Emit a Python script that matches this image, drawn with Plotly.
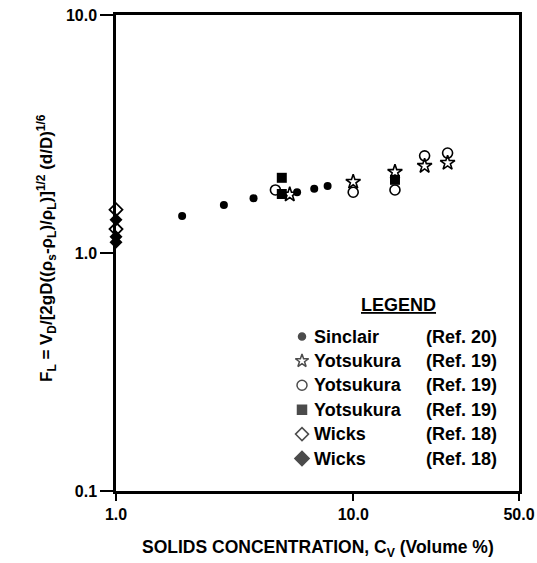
import plotly.graph_objects as go

# ---- data ----
sinclair_x = [1.9, 2.85, 3.8, 5.0, 5.8, 6.85, 7.8]
sinclair_y = [1.43, 1.59, 1.70, 1.76, 1.80, 1.86, 1.91]

yots_star_x = [5.4, 10.0, 15.0, 20.0, 25.0]
yots_star_y = [1.76, 1.99, 2.19, 2.32, 2.39]

yots_circ_x = [4.7, 10.0, 15.0, 20.0, 25.0]
yots_circ_y = [1.84, 1.80, 1.84, 2.56, 2.63]

yots_sq_x = [5.0, 5.0, 15.0]
yots_sq_y = [2.07, 1.77, 2.03]

wicks_open_x = [1.0, 1.0]
wicks_open_y = [1.52, 1.26]

wicks_fill_x = [1.0, 1.0, 1.0]
wicks_fill_y = [1.38, 1.17, 1.11]

legend_names = ["Sinclair", "Yotsukura", "Yotsukura", "Yotsukura", "Wicks", "Wicks"]
legend_refs = ["(Ref. 20)", "(Ref. 19)", "(Ref. 19)", "(Ref. 19)", "(Ref. 18)", "(Ref. 18)"]
legend_symbols = ["circle", "star-open", "circle-open", "square", "diamond-open", "diamond"]
legend_sizes = [7, 10, 10, 9, 10, 11]

x_ticks = [1, 10, 50]
x_ticktext = ["1.0", "10.0", "50.0"]
y_ticks = [0.1, 1, 10]
y_ticktext = ["0.1", "1.0", "10.0"]

FONT = "Liberation Sans"
W, H = 537, 563
L, R, T, B = 116, 18, 15, 72
PW, PH = W - L - R, H - T - B

def fx(px):
    return (px - L) / PW

def fy(py):
    return (H - B - py) / PH

fig = go.Figure()

common = dict(mode="markers", cliponaxis=False, showlegend=False)
fig.add_trace(go.Scatter(x=sinclair_x, y=sinclair_y,
                         marker=dict(symbol="circle", size=8, color="black"), **common))
fig.add_trace(go.Scatter(x=yots_sq_x, y=yots_sq_y,
                         marker=dict(symbol="square", size=10, color="black"), **common))
fig.add_trace(go.Scatter(x=yots_star_x, y=yots_star_y,
                         marker=dict(symbol="star-open", size=11, color="black",
                                     line=dict(width=1.6, color="black")), **common))
fig.add_trace(go.Scatter(x=yots_circ_x, y=yots_circ_y,
                         marker=dict(symbol="circle-open", size=10, color="black",
                                     line=dict(width=1.6, color="black")), **common))
fig.add_trace(go.Scatter(x=wicks_fill_x, y=wicks_fill_y,
                         marker=dict(symbol="diamond", size=10, color="black"), **common))
fig.add_trace(go.Scatter(x=wicks_open_x, y=wicks_open_y,
                         marker=dict(symbol="diamond-open", size=10, color="black",
                                     line=dict(width=1.8, color="black")), **common))

# legend block drawn on an overlay axis in plot-fraction coordinates
row_y = [336.5 + 24.4 * i for i in range(len(legend_names))]
fig.add_trace(go.Scatter(
    x=[fx(302)] * len(row_y), y=[fy(py) for py in row_y],
    xaxis="x2", yaxis="y2", mode="markers", showlegend=False, cliponaxis=False,
    marker=dict(symbol=legend_symbols, size=legend_sizes, color="black",
                line=dict(width=1.5, color="black"))))

annotations = []
for i, py in enumerate(row_y):
    annotations.append(dict(xref="paper", yref="paper", x=fx(312), y=fy(py),
                            xanchor="left", yanchor="middle", showarrow=False,
                            text=f"<b>{legend_names[i]}</b>",
                            font=dict(family=FONT, size=18, color="black")))
    annotations.append(dict(xref="paper", yref="paper", x=fx(499), y=fy(py),
                            xanchor="right", yanchor="middle", showarrow=False,
                            text=f"<b>{legend_refs[i]}</b>",
                            font=dict(family=FONT, size=18, color="black")))
annotations.append(dict(xref="paper", yref="paper", x=fx(398), y=fy(305),
                        xanchor="center", yanchor="middle", showarrow=False,
                        text="<b><u>LEGEND</u></b>",
                        font=dict(family=FONT, size=18, color="black")))
# y axis title (formula)
annotations.append(dict(xref="paper", yref="paper", x=fx(46), y=fy(248),
                        xanchor="center", yanchor="middle", showarrow=False,
                        textangle=-90,
                        text="<b>F<sub>L</sub> = V<sub>D</sub>/[2gD((ρ<sub>s</sub>-ρ<sub>L</sub>)/ρ<sub>L</sub>)]"
                             "<sup>1/2</sup> (d/D)<sup>1/6</sup></b>",
                        font=dict(family=FONT, size=17, color="black")))
# x axis title
annotations.append(dict(xref="paper", yref="paper", x=fx(318), y=fy(548),
                        xanchor="center", yanchor="middle", showarrow=False,
                        text="<b>SOLIDS CONCENTRATION, C<sub>V</sub> (Volume %)</b>",
                        font=dict(family=FONT, size=17.5, color="black")))

axis_common = dict(type="log", showgrid=False, zeroline=False, showline=True,
                   linecolor="black", linewidth=2.5, mirror=True, automargin=False,
                   ticks="outside", tickwidth=2, tickcolor="black",
                   tickfont=dict(family=FONT, size=16, color="black"))

fig.update_layout(
    width=W, height=H,
    margin=dict(l=L, r=R, t=T, b=B),
    paper_bgcolor="white", plot_bgcolor="white",
    xaxis=dict(range=[0, 1.69897], tickvals=x_ticks, ticklen=7,
               ticktext=[f"<b>{t}</b>" for t in x_ticktext], **axis_common),
    yaxis=dict(range=[-1, 1], tickvals=y_ticks, ticklen=13,
               ticktext=[f"<b>{t}</b>" for t in y_ticktext], **axis_common),
    xaxis2=dict(overlaying="x", range=[0, 1], visible=False),
    yaxis2=dict(overlaying="y", range=[0, 1], visible=False),
    annotations=annotations,
)

fig.write_html("out.html")
